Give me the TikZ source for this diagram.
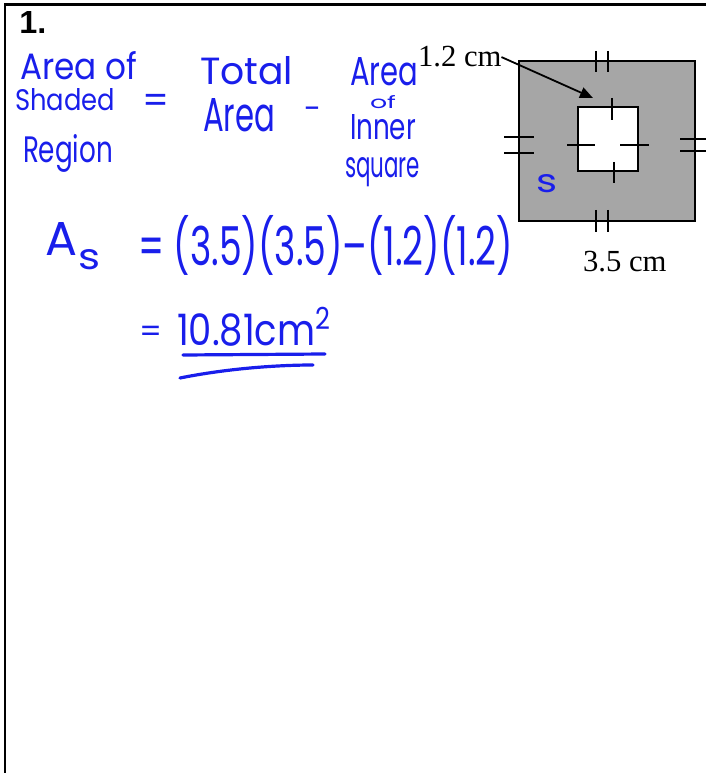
\documentclass[tikz,border=0pt]{standalone}
\usepackage{fontspec}
\setmainfont{Liberation Serif}
\newfontfamily\hwfont{Poppins}
\newfontfamily\headfont{Liberation Sans}
\usetikzlibrary{arrows.meta}
\newlength\px
\setlength\px{0.75pt}
\newcommand\hw[2]{\resizebox{#1\px}{!}{\hwfont #2}}
\newcommand\hwb[3]{\resizebox{#1\px}{#2\px}{\hwfont #3}}
\newcommand\hwt[3]{\resizebox*{#1\px}{#2\px}{\hwfont #3}}
\definecolor{ink}{RGB}{25,30,235}
\definecolor{shade}{RGB}{166,166,166}
\begin{document}
\begin{tikzpicture}[x=0.75pt,y=-0.75pt,
  hand/.style={text=ink, inner sep=0pt, outer sep=0pt},
  serif/.style={inner sep=0pt, outer sep=0pt, font=\fontsize{23}{23}\selectfont},
  frame/.style={line width=1.9pt},
  edge/.style={line width=1.5pt},
  tick/.style={line width=1.35pt},
  uline/.style={draw=ink, line width=2.4pt, line cap=round}]
\useasboundingbox (0,0) rectangle (706,773);
% frame
\draw[frame] (5,773) -- (5,4.5) -- (706,4.5);
\node[anchor=base west, inner sep=0pt] (num) at (19,34) {\resizebox{27\px}{22\px}{\headfont\bfseries 1.}};

% word equation
\node[hand, anchor=base west] (w1) at (20,80) {\hwb{117}{28}{Area of}};
\node[hand, anchor=base west] (w2) at (15,111) {\hwb{100}{22}{Shaded}};
\node[hand, anchor=base west] (w3) at (23,163) {\hwb{90}{28}{Region}};
\node[hand] (eq1) at (156,104) {\hw{27}{=}};
\node[hand, anchor=base west] (w4) at (200,85) {\hwb{93}{28}{Total}};
\node[hand, anchor=base west] (w5) at (203,132) {\hwb{72}{33}{Area}};
\node[hand] (mi1) at (313,113) {\hw{17}{-}};
\node[hand, anchor=base west] (w6) at (350,86) {\hwb{68}{28}{Area}};
\node[hand, anchor=base west] (w7) at (370,109) {\hwb{26}{13}{of}};
\node[hand, anchor=base west] (w8) at (350,140) {\hwb{66}{25}{Inner}};
\node[hand, anchor=base west] (w9) at (345,178) {\hwb{75}{20}{square}};

% calculation
\node[hand, anchor=base west] (A) at (45,255) {\hwb{32}{33}{A}};
\node[hand, anchor=base west] (As) at (78,270) {\hwb{22}{20}{s}};
\node[hand, anchor=north west] (calc) at (138,215) {\hwt{375}{60}{= (3.5)(3.5)–(1.2)(1.2)}};
\node[hand] (eq2) at (151,334) {\hw{23}{=}};
\node[hand, anchor=base west] (res) at (177,345) {\hwb{155}{38}{10.81cm\textsuperscript{2}}};
\draw[uline] (183,355) -- (325,354);
\draw[uline] (180,378) .. controls (230,368) and (280,365) .. (313,365);

% figure
\draw[edge, fill=shade] (519,61) rectangle (695,221);
\draw[edge, fill=white] (578,107) rectangle (638,171);
% outer ticks
\draw[tick] (596,51) -- (596,72) (608,51) -- (608,72);
\draw[tick] (596,210) -- (596,232) (608,210) -- (608,232);
\draw[tick] (504,137) -- (534,137) (504,153) -- (534,153);
\draw[tick] (680,139) -- (706,139) (680,151) -- (706,151);
% inner ticks
\draw[tick] (612,98) -- (612,120);
\draw[tick] (614,162) -- (614,183);
\draw[tick] (567,145) -- (595,145);
\draw[tick] (620,145) -- (649,145);
\node[hand] (S) at (547,184) {\hwb{21}{18}{s}};

% labels
\node[serif, anchor=base west] (l12) at (418,67) {1.2 cm};
\node[serif, anchor=base west] (l35) at (583,272) {3.5 cm};
\coordinate (tip) at (593,98);
\draw[line width=1.35pt, -{Triangle[length=9.75pt, width=8.25pt]}] (l12.east) -- (tip);
\end{tikzpicture}
\end{document}
